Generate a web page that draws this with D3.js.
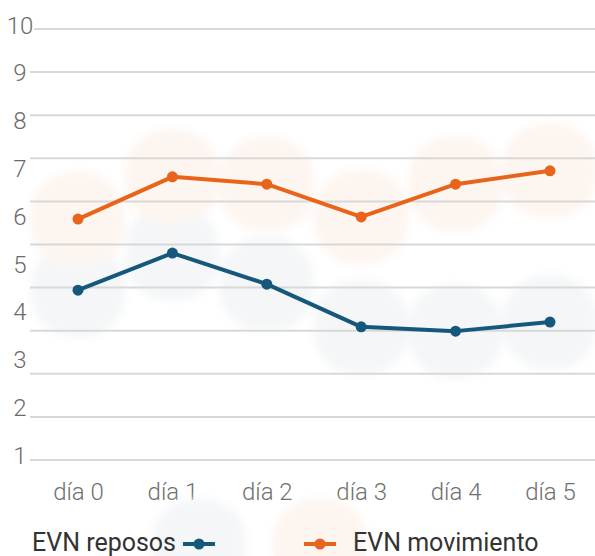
<!DOCTYPE html>
<html>
<head>
<meta charset="utf-8">
<script src="https://cdn.jsdelivr.net/npm/d3@7"></script>
<style>
  html, body { margin: 0; padding: 0; background: #fff; }
  svg { display: block; }
</style>
</head>
<body>
<svg id="chart" width="595" height="556"></svg>
<script>
const days = ["día 0", "día 1", "día 2", "día 3", "día 4", "día 5"];
const reposo = [3.94, 4.80, 4.08, 3.09, 2.99, 3.20];
const movimiento = [5.59, 6.57, 6.40, 5.64, 6.40, 6.71];
const gridValues = [0, 1, 2, 3, 4, 5, 6, 7, 8, 9, 10];
const tickLabels = [1, 2, 3, 4, 5, 6, 7, 8, 9, 10];

const series = [
  { name: "EVN reposos", values: reposo, color: "#15587b", halo: "#f4f6f8" },
  { name: "EVN movimiento", values: movimiento, color: "#e8641b", halo: "#fdf5f0" }
];

const svg = d3.select("#chart");
const W = 595;

const defs = svg.append("defs");
defs.append("filter")
  .attr("id", "soft")
  .attr("x", "-30%").attr("y", "-30%")
  .attr("width", "160%").attr("height", "160%")
  .append("feGaussianBlur")
  .attr("stdDeviation", 4);

const x = d3.scalePoint().domain(days).range([78, 550]);
const y = d3.scaleLinear().domain([0, 10]).range([460, 29]);
// tick labels in the original sit on their own, slightly wider spacing
const yLabel = d3.scaleLinear().domain([1, 10]).range([455, 25]);

// faint halos behind the points
const halos = svg.append("g").attr("filter", "url(#soft)");
series.forEach(s => {
  halos.selectAll(null)
    .data(s.values)
    .join("rect")
    .attr("x", (d, i) => x(days[i]) - 47)
    .attr("y", d => y(d) - 47)
    .attr("width", 94)
    .attr("height", 94)
    .attr("rx", 42)
    .attr("fill", s.halo);
});

// gridlines
svg.append("g")
  .selectAll("line")
  .data(gridValues)
  .join("line")
  .attr("x1", d => d === 10 ? 34 : 30)
  .attr("x2", W)
  .attr("y1", d => y(d))
  .attr("y2", d => y(d))
  .attr("stroke", "#d8d8d8")
  .attr("stroke-width", 2);

// y tick labels
svg.append("g")
  .selectAll("text")
  .data(tickLabels)
  .join("text")
  .attr("x", 20)
  .attr("y", d => yLabel(d))
  .attr("dy", "0.36em")
  .attr("text-anchor", "middle")
  .attr("fill", "#6b6b6b")
  .style("font-family", "Roboto, sans-serif")
  .style("font-weight", "300")
  .style("font-size", "24px")
  .text(d => d);

// x labels
const xAxis = svg.append("g")
  .attr("transform", "translate(0,480)")
  .call(d3.axisBottom(x).tickSize(0).tickPadding(0));
xAxis.select(".domain").remove();
xAxis.selectAll("text")
  .attr("y", 12)
  .attr("dy", "0.32em")
  .attr("fill", "#707070")
  .style("font-family", "Roboto, sans-serif")
  .style("font-weight", "300")
  .style("font-size", "24px");

// lines and points
const line = d3.line()
  .x((d, i) => x(days[i]))
  .y(d => y(d));

series.forEach(s => {
  svg.append("path")
    .datum(s.values)
    .attr("fill", "none")
    .attr("stroke", s.color)
    .attr("stroke-width", 4)
    .attr("stroke-linejoin", "round")
    .attr("d", line);

  svg.append("g")
    .selectAll("circle")
    .data(s.values)
    .join("circle")
    .attr("cx", (d, i) => x(days[i]))
    .attr("cy", d => y(d))
    .attr("r", 5.5)
    .attr("fill", s.color);
});

// legend
const legendY = 544;
const legend = [
  { s: series[0], textX: 32, markX: 199 },
  { s: series[1], textX: 353, markX: 320 }
];

legend.forEach(l => {
  const g = svg.append("g");
  g.append("rect")
    .attr("x", l.markX - 47)
    .attr("y", legendY - 45)
    .attr("width", 94)
    .attr("height", 94)
    .attr("rx", 42)
    .attr("fill", l.s.halo)
    .attr("filter", "url(#soft)");
  g.append("line")
    .attr("x1", l.markX - 16)
    .attr("x2", l.markX + 16)
    .attr("y1", legendY)
    .attr("y2", legendY)
    .attr("stroke", l.s.color)
    .attr("stroke-width", 4);
  g.append("circle")
    .attr("cx", l.markX)
    .attr("cy", legendY)
    .attr("r", 5.5)
    .attr("fill", l.s.color);
  g.append("text")
    .attr("x", l.textX)
    .attr("y", 551)
    .attr("fill", "#333")
    .style("font-family", "Roboto, sans-serif")
    .style("font-size", "25px")
    .text(l.s.name);
});
</script>
</body>
</html>
